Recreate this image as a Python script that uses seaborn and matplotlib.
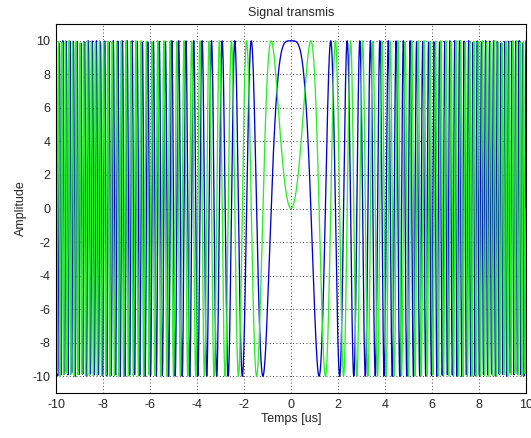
import numpy as np
import pandas as pd
import matplotlib
matplotlib.use("Agg")
import matplotlib.pyplot as plt
import seaborn as sns

# Chirp parameters
amplitude = 10.0          # peak amplitude
chirp_rate = 0.7          # phase = pi * chirp_rate * t^2
t_start, t_stop = -10.0, 10.0
n_samples = 2001

x_ticks = [-10, -8, -6, -4, -2, 0, 2, 4, 6, 8, 10]
y_ticks = [-10, -8, -6, -4, -2, 0, 2, 4, 6, 8, 10]
title = "Signal transmis"
xlabel = "Temps [us]"
ylabel = "Amplitude"

t = np.linspace(t_start, t_stop, n_samples)
phase = np.pi * chirp_rate * t ** 2
real_part = amplitude * np.cos(phase)
imag_part = amplitude * np.sin(phase)

df = pd.DataFrame({
    "t": np.concatenate([t, t]),
    "v": np.concatenate([real_part, imag_part]),
    "part": ["real"] * len(t) + ["imag"] * len(t),
})

sns.set_style("white")
plt.rcParams["font.family"] = ["Liberation Sans", "DejaVu Sans"]

fig = plt.figure(figsize=(5.31, 4.38), dpi=100)
ax = fig.add_axes([56 / 531, 45 / 438, 470 / 531, 369 / 438])

sns.lineplot(data=df, x="t", y="v", hue="part", hue_order=["real", "imag"],
             palette={"real": "#0000d0", "imag": "#28f028"},
             estimator=None, sort=False, linewidth=0.95, legend=False, ax=ax)

ax.set_xlim(-10, 10)
ax.set_ylim(-11, 11)
ax.set_xticks(x_ticks)
ax.set_yticks(y_ticks)
ax.set_xticklabels([str(v) for v in x_ticks], fontsize=9)
ax.set_yticklabels([str(v) for v in y_ticks], fontsize=9)
ax.tick_params(direction="in", length=4, width=0.6, color="black", pad=4)
ax.grid(True, color="black", linestyle=(0, (1, 3)), linewidth=0.6)
for s in ax.spines.values():
    s.set_color("black")
    s.set_linewidth(0.8)
ax.set_title(title, fontsize=9, pad=6)
ax.set_xlabel(xlabel, fontsize=9, labelpad=2)
ax.set_ylabel(ylabel, fontsize=9, labelpad=4)

fig.savefig("out.png", dpi=100, facecolor="white")
